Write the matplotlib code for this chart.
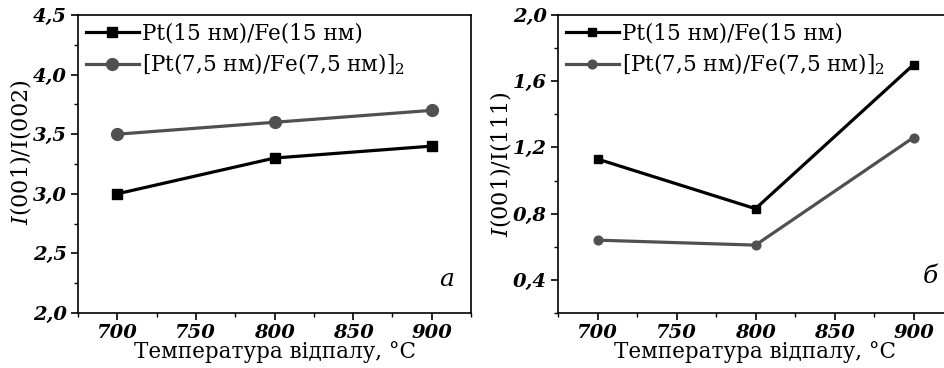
import matplotlib
matplotlib.use("Agg")
import matplotlib.pyplot as plt
from matplotlib.ticker import MultipleLocator, FuncFormatter

temps = [700, 800, 900]
a_pt15 = [3.0, 3.3, 3.4]
a_pt75 = [3.5, 3.6, 3.7]
b_pt15 = [1.13, 0.83, 1.70]
b_pt75 = [0.64, 0.61, 1.26]
label1 = "Pt(15 нм)/Fe(15 нм)"
label2 = "[Pt(7,5 нм)/Fe(7,5 нм)]$_2$"
xlabel = "Температура відпалу, °C"

plt.rcParams['font.family'] = ['DejaVu Serif']
plt.rcParams['mathtext.fontset'] = 'dejavuserif'

W, H = 944, 368
fig = plt.figure(figsize=(W/100, H/100), dpi=100)

def px(x0, y0, x1, y1):
    return [x0/W, 1 - y1/H, (x1-x0)/W, (y1-y0)/H]

ax1 = fig.add_axes(px(78, 15, 471, 313))
ax2 = fig.add_axes(px(558, 15, 953, 313))

black = '#000000'
gray = '#505050'

def comma(v, pos, nd):
    return f"{v:.{nd}f}".replace('.', ',')

def style(ax, ylim, major, minor, nd, ylabel, ly):
    ax.set_xlim(675, 925)
    ax.set_ylim(*ylim)
    ax.xaxis.set_major_locator(MultipleLocator(50))
    ax.xaxis.set_minor_locator(MultipleLocator(25))
    ax.yaxis.set_major_locator(MultipleLocator(major))
    ax.yaxis.set_minor_locator(MultipleLocator(minor))
    ax.yaxis.set_major_formatter(FuncFormatter(lambda v, p: comma(v, p, nd)))
    ax.tick_params(which='major', direction='out', length=5, width=1.2,
                   labelsize=14, top=False, right=False, pad=3)
    ax.tick_params(which='minor', direction='out', length=3, width=1.0,
                   top=False, right=False)
    for lab in ax.get_xticklabels() + ax.get_yticklabels():
        lab.set_fontstyle('italic')
        lab.set_fontweight('bold')
    for s in ax.spines.values():
        s.set_linewidth(1.2)
    ax.set_xlabel(xlabel, fontsize=15.5, labelpad=-1)
    ax.set_ylabel(ylabel, fontsize=16)
    ax.yaxis.set_label_coords(-0.114, ly)

ax1.plot(temps, a_pt15, color=black, lw=2.3, marker='s', ms=7.5, label=label1)
ax1.plot(temps, a_pt75, color=gray, lw=2.3, marker='o', ms=8.5, label=label2)
style(ax1, (2.0, 4.5), 0.5, 0.25, 1, "$I$(001)/I(002)", 0.54)
ax1.text(0.939, 0.111, 'a', transform=ax1.transAxes, fontsize=18,
         fontstyle='italic', ha='center', va='center')

ax2.plot(temps, b_pt15, color=black, lw=2.3, marker='s', ms=6, label=label1)
ax2.plot(temps, b_pt75, color=gray, lw=2.3, marker='o', ms=6.3, label=label2)
style(ax2, (0.2, 2.0), 0.4, 0.2, 1, "$I$(001)/I(111)", 0.5)
ax2.text(0.942, 0.124, 'б', transform=ax2.transAxes, fontsize=18,
         fontstyle='italic', ha='center', va='center')

for ax in (ax1, ax2):
    ax.legend(loc='upper left', frameon=False, fontsize=15.5, handlelength=2.5,
              handletextpad=0.1, borderaxespad=0.1, borderpad=0.25,
              labelspacing=0.35)

fig.savefig('out.png', dpi=100)
